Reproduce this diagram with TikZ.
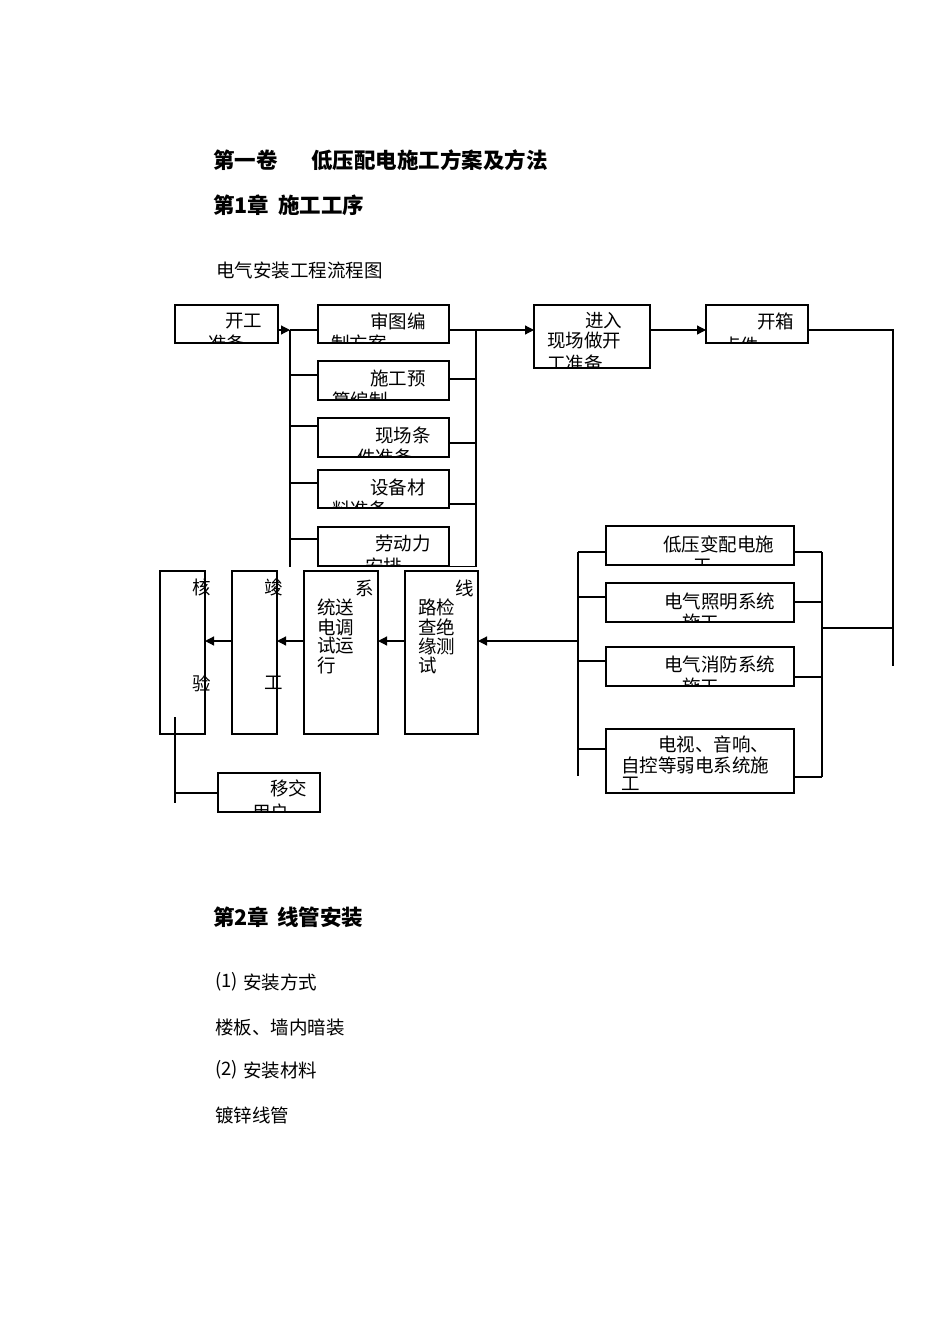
\documentclass[tikz,border=0pt]{standalone}
\usepackage{fontspec}
\newfontfamily\cjk{Noto Sans CJK SC}
\usetikzlibrary{arrows.meta}
\begin{document}
\begin{tikzpicture}[x=1pt,y=-1pt,
  bx/.style={draw=black, line width=1.2pt, inner sep=0pt, outer sep=0pt},
  tx/.style={inner sep=0pt, outer sep=0pt, anchor=west, font=\cjk\fontsize{18.5}{20}\selectfont},
  tc/.style={tx, anchor=center},
  hd/.style={inner sep=0pt, outer sep=0pt, anchor=west, font=\cjk\bfseries\fontsize{21.5}{24}\selectfont},
  ln/.style={line width=1.2pt},
  ar/.style={line width=1.2pt, -{Triangle[length=9pt,width=9pt]}},
]
\useasboundingbox[fill=white] (0,0) rectangle (950,1344);

% headings
\node[hd] (t1a) at (213,160) {第一卷};
\node[hd] (t1b) at (311,160) {低压配电施工方案及方法};
\node[hd] (t2a) at (213,205) {第1章};
\node[hd] (t2b) at (278,205) {施工工序};
\node[tx] (t3) at (216,270) {电气安装工程流程图};

% boxes
\node[bx, minimum width=103pt, minimum height=38pt] (kg) at (226.5,324) {};
\node[bx, minimum width=131pt, minimum height=38pt] (st) at (383.5,324) {};
\node[bx, minimum width=131pt, minimum height=39pt] (sg) at (383.5,380.5) {};
\node[bx, minimum width=131pt, minimum height=39pt] (xc) at (383.5,437.5) {};
\node[bx, minimum width=131pt, minimum height=38pt] (sb) at (383.5,489) {};
\node[bx, minimum width=131pt, minimum height=39pt] (ld) at (383.5,546.5) {};
\node[bx, minimum width=116pt, minimum height=63pt] (jr) at (592,336.5) {};
\node[bx, minimum width=102pt, minimum height=38pt] (kx) at (757,324) {};
\node[bx, minimum width=188pt, minimum height=39pt] (dy) at (700,545.5) {};
\node[bx, minimum width=188pt, minimum height=39pt] (zm) at (700,602.5) {};
\node[bx, minimum width=188pt, minimum height=39pt] (xf) at (700,666.5) {};
\node[bx, minimum width=188pt, minimum height=64pt] (rd) at (700,761) {};
\node[bx, minimum width=45pt, minimum height=163pt] (hy) at (182.5,652.5) {};
\node[bx, minimum width=45pt, minimum height=163pt] (jg) at (254.5,652.5) {};
\node[bx, minimum width=74pt, minimum height=163pt] (xt) at (341,652.5) {};
\node[bx, minimum width=73pt, minimum height=163pt] (xl) at (441.5,652.5) {};
\node[bx, minimum width=102pt, minimum height=39pt] (yj) at (269,792.5) {};

% clipped box texts
\begin{scope}\clip ([shift={(0.6pt,0.6pt)}]kg.south west) rectangle ([shift={(-0.6pt,-0.6pt)}]kg.north east);
\node[tx] (kg1) at (225,321) {开工}; \node[tx] (kg2) at (208,343) {准备};\end{scope}
\begin{scope}\clip ([shift={(0.6pt,0.6pt)}]st.south west) rectangle ([shift={(-0.6pt,-0.6pt)}]st.north east);
\node[tx] (st1) at (370,321) {审图编}; \node[tx] (st2) at (331,343) {制方案};\end{scope}
\begin{scope}\clip ([shift={(0.6pt,0.6pt)}]sg.south west) rectangle ([shift={(-0.6pt,-0.6pt)}]sg.north east);
\node[tx] (sg1) at (370,378) {施工预}; \node[tx] (sg2) at (332,400) {算编制};\end{scope}
\begin{scope}\clip ([shift={(0.6pt,0.6pt)}]xc.south west) rectangle ([shift={(-0.6pt,-0.6pt)}]xc.north east);
\node[tx] (xc1) at (375,435) {现场条}; \node[tx] (xc2) at (357,457) {件准备};\end{scope}
\begin{scope}\clip ([shift={(0.6pt,0.6pt)}]sb.south west) rectangle ([shift={(-0.6pt,-0.6pt)}]sb.north east);
\node[tx] (sb1) at (370,487) {设备材}; \node[tx] (sb2) at (332,509) {料准备};\end{scope}
\begin{scope}\clip ([shift={(0.6pt,0.6pt)}]ld.south west) rectangle ([shift={(-0.6pt,-0.6pt)}]ld.north east);
\node[tx] (ld1) at (375,543) {劳动力}; \node[tx] (ld2) at (365,566) {安排};\end{scope}
\begin{scope}\clip ([shift={(0.6pt,0.6pt)}]jr.south west) rectangle ([shift={(-0.6pt,-0.6pt)}]jr.north east);
\node[tx] (jr1) at (585,321) {进入}; \node[tx] (jr2) at (547,341) {现场做开}; \node[tx] (jr3) at (547,363) {工准备};\end{scope}
\begin{scope}\clip ([shift={(0.6pt,0.6pt)}]kx.south west) rectangle ([shift={(-0.6pt,-0.6pt)}]kx.north east);
\node[tx] (kx1) at (757,321) {开箱}; \node[tx] (kx2) at (722,345) {点件};\end{scope}
\begin{scope}\clip ([shift={(0.6pt,0.6pt)}]dy.south west) rectangle ([shift={(-0.6pt,-0.6pt)}]dy.north east);
\node[tx] (dy1) at (663,544) {低压变配电施}; \node[tx] (dy2) at (693,566) {工};\end{scope}
\begin{scope}\clip ([shift={(0.6pt,0.6pt)}]zm.south west) rectangle ([shift={(-0.6pt,-0.6pt)}]zm.north east);
\node[tx] (zm1) at (664,601) {电气照明系统}; \node[tx] (zm2) at (682,622) {施工};\end{scope}
\begin{scope}\clip ([shift={(0.6pt,0.6pt)}]xf.south west) rectangle ([shift={(-0.6pt,-0.6pt)}]xf.north east);
\node[tx] (xf1) at (664,664) {电气消防系统}; \node[tx] (xf2) at (682,686) {施工};\end{scope}
\begin{scope}\clip ([shift={(0.6pt,0.6pt)}]rd.south west) rectangle ([shift={(-0.6pt,-0.6pt)}]rd.north east);
\node[tx] (rd1) at (658,744) {电视、音响、}; \node[tx] (rd2) at (621,765) {自控等弱电系统施}; \node[tx] (rd3) at (621,784) {工};\end{scope}
\begin{scope}\clip ([shift={(0.6pt,0.6pt)}]yj.south west) rectangle ([shift={(-0.6pt,-0.6pt)}]yj.north east);
\node[tx] (yj1) at (270,788) {移交}; \node[tx] (yj2) at (252,812) {用户};\end{scope}

% vertical texts
\node[tc] (hy1) at (202,587) {核}; \node[tc] (hy2) at (202,683) {验};
\node[tc] (jg1) at (274,587) {竣}; \node[tc] (jg2) at (274,683) {工};
\node[tc] (xt0) at (365,588) {系};
\node[tx] (xt1) at (317,607) {统送}; \node[tx] (xt2) at (317,627) {电调};
\node[tx] (xt3) at (317,646) {试运}; \node[tx] (xt4) at (317,665) {行};
\node[tc] (xl0) at (465,588) {线};
\node[tx] (xl1) at (418,607) {路检}; \node[tx] (xl2) at (418,627) {查绝};
\node[tx] (xl3) at (418,646) {缘测}; \node[tx] (xl4) at (418,665) {试};

% connectors: left column buses
\coordinate (bL1) at (290,330); \coordinate (bL2) at (290,567);
\coordinate (bL3) at (290,375); \coordinate (bL4) at (290,426);
\coordinate (bL5) at (290,483); \coordinate (bL6) at (290,539);
\draw[ar] (kg.east |- bL1) -- (bL1);
\draw[ln] (bL1) -- (bL2);
\draw[ln] (bL1) -- (bL1 -| st.west);
\draw[ln] (bL3) -- (bL3 -| sg.west);
\draw[ln] (bL4) -- (bL4 -| xc.west);
\draw[ln] (bL5) -- (bL5 -| sb.west);
\draw[ln] (bL6) -- (bL6 -| ld.west);

\coordinate (bR1) at (476,330); \coordinate (bR2) at (476,566.5);
\coordinate (bR3) at (476,379); \coordinate (bR4) at (476,443);
\coordinate (bR5) at (476,504);
\draw[ln] (bR1 -| st.east) -- (bR1) -- (bR2) -- (bR2 -| ld.east);
\draw[ln] (bR3 -| sg.east) -- (bR3);
\draw[ln] (bR4 -| xc.east) -- (bR4);
\draw[ln] (bR5 -| sb.east) -- (bR5);
\draw[ar] (bR1) -- (bR1 -| jr.west);
\draw[ar] (jr.east |- bR1) -- (kx.west |- bR1);

% right side
\coordinate (k1) at (893,330); \coordinate (k2) at (893,666); \coordinate (k3) at (893,628);
\draw[ln] (kx.east |- k1) -- (k1) -- (k2);
\coordinate (rb1) at (822,552); \coordinate (rb2) at (822,777);
\coordinate (rb3) at (822,602); \coordinate (rb4) at (822,677);
\draw[ln] (k3) -- (k3 -| rb1);
\draw[ln] (rb1) -- (rb2);
\draw[ln] (rb1 -| dy.east) -- (rb1);
\draw[ln] (rb3 -| zm.east) -- (rb3);
\draw[ln] (rb4 -| xf.east) -- (rb4);
\draw[ln] (rb2 -| rd.east) -- (rb2);

\coordinate (lb1) at (578,552); \coordinate (lb2) at (578,776);
\coordinate (lb3) at (578,597); \coordinate (lb4) at (578,661);
\coordinate (lb5) at (578,749); \coordinate (la) at (578,641);
\draw[ln] (lb1) -- (lb2);
\draw[ln] (lb1) -- (lb1 -| dy.west);
\draw[ln] (lb3) -- (lb3 -| zm.west);
\draw[ln] (lb4) -- (lb4 -| xf.west);
\draw[ln] (lb5) -- (lb5 -| rd.west);
\draw[ar] (la) -- (la -| xl.east);

% bottom row arrows
\draw[ar] (xl.west |- la) -- (xt.east |- la);
\draw[ar] (xt.west |- la) -- (jg.east |- la);
\draw[ar] (jg.west |- la) -- (hy.east |- la);

% to hand-over box
\coordinate (h1) at (175,717); \coordinate (h2) at (175,803); \coordinate (h3) at (175,793);
\draw[ln] (h1) -- (h2);
\draw[ln] (h3) -- (h3 -| yj.west);

% lower text
\node[hd] (t4a) at (213,917) {第2章};
\node[hd] (t4b) at (277,917) {线管安装};
\node[tx] (p1a) at (215,982) {(1)}; \node[tx] (p1b) at (243,982) {安装方式};
\node[tx] (p2) at (215,1027) {楼板、墙内暗装};
\node[tx] (p3a) at (215,1070) {(2)}; \node[tx] (p3b) at (243,1070) {安装材料};
\node[tx] (p4) at (215,1115) {镀锌线管};
\end{tikzpicture}
\end{document}
